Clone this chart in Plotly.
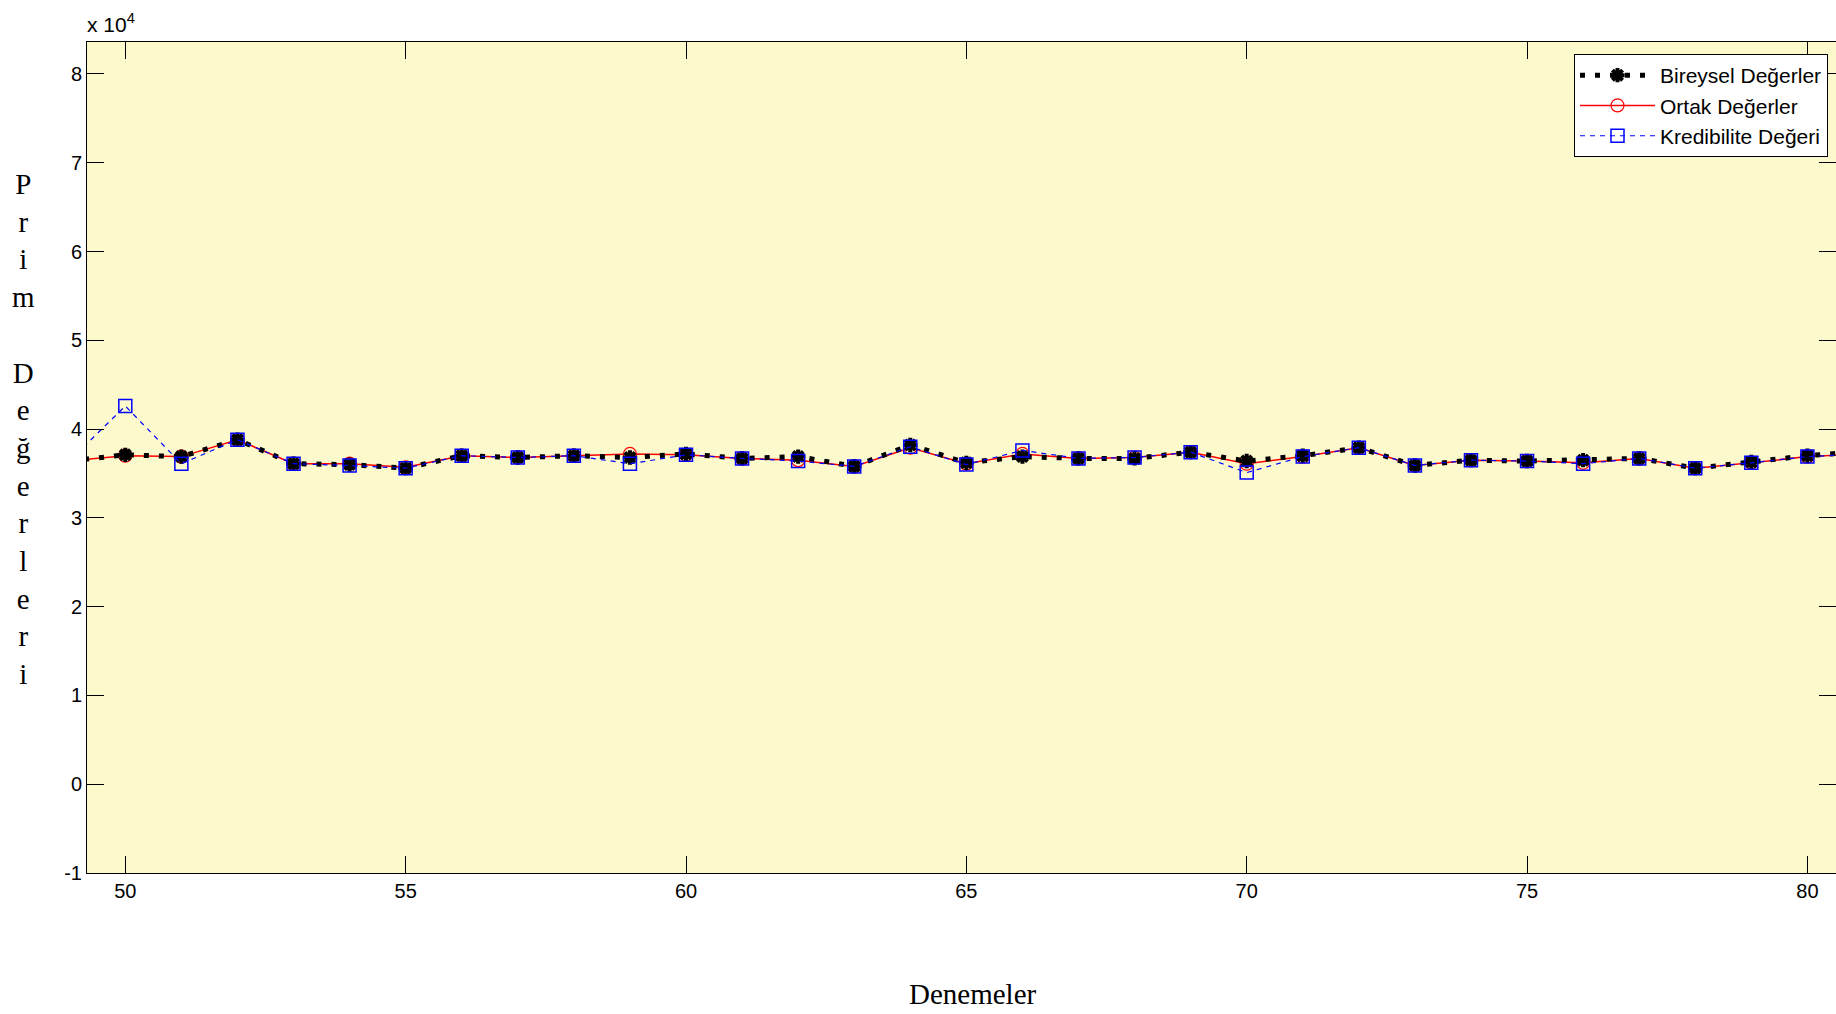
import plotly.graph_objects as go

# ---- data (values in units of 1) ----
denemeler = list(range(49, 82))
bireysel = [3.64, 3.71, 3.69, 3.88, 3.61, 3.60, 3.56, 3.70, 3.68, 3.70, 3.68, 3.72,
            3.67, 3.69, 3.58, 3.82, 3.62, 3.69, 3.67, 3.67, 3.74, 3.64, 3.70, 3.79,
            3.59, 3.65, 3.64, 3.65, 3.67, 3.56, 3.63, 3.70, 3.75]
ortak = [3.64, 3.70, 3.69, 3.88, 3.61, 3.61, 3.57, 3.70, 3.68, 3.70, 3.72, 3.71,
         3.67, 3.65, 3.58, 3.79, 3.61, 3.72, 3.67, 3.68, 3.74, 3.61, 3.69, 3.79,
         3.59, 3.65, 3.64, 3.62, 3.67, 3.56, 3.62, 3.69, 3.72]
kredibilite = [3.64, 4.26, 3.61, 3.88, 3.61, 3.59, 3.56, 3.70, 3.68, 3.70, 3.61, 3.71,
               3.67, 3.64, 3.58, 3.80, 3.60, 3.76, 3.67, 3.68, 3.74, 3.51, 3.69, 3.79,
               3.59, 3.65, 3.64, 3.61, 3.67, 3.56, 3.62, 3.69, 3.72]
scale = 1e4
y_ticks = [-1, 0, 1, 2, 3, 4, 5, 6, 7, 8]
x_ticks = [50, 55, 60, 65, 70, 75, 80]
ylabel_letters = ["P", "r", "i", "m", " ", "D", "e", "ğ", "e", "r", "l", "e", "r", "i"]

SANS = "Liberation Sans, Arial, sans-serif"
SERIF = "Liberation Serif, Times New Roman, serif"

fig = go.Figure()
fig.add_trace(go.Scatter(
    x=denemeler, y=[v * scale for v in ortak], name="Ortak Değerler", mode="lines+markers",
    line=dict(color="#FF0000", width=1.5),
    marker=dict(symbol="circle-open", size=13, color="#FF0000", line=dict(width=1.2)),
    legendrank=2, legendgroup="b"))
fig.add_trace(go.Scatter(
    x=denemeler, y=[v * scale for v in bireysel], name="Bireysel Değerler", mode="lines+markers",
    line=dict(color="#000000", width=5, dash="5px,10px"),
    marker=dict(symbol="asterisk-open", size=12, color="#000000", line=dict(width=4, color="#000000")),
    legendrank=1, legendgroup="a"))
fig.add_trace(go.Scatter(
    x=denemeler, y=[v * scale for v in kredibilite], name="Kredibilite Değeri", mode="lines+markers",
    line=dict(color="#0000FF", width=1.2, dash="5px,5px"),
    marker=dict(symbol="square-open", size=13, color="#0000FF", line=dict(width=1.5)),
    legendrank=3, legendgroup="c"))

W, H = 1836, 1014
L, R, T, B = 87, 0, 42, 141
pw, ph = W - L - R, H - T - B

def px(xp):
    return (xp - L) / pw

def py(yp):
    return (H - B - yp) / ph

annotations = [
    dict(text="Denemeler", x=px(973), y=py(994), xref="paper", yref="paper",
         showarrow=False, xanchor="center", yanchor="middle",
         font=dict(family=SERIF, size=29, color="black")),
    dict(text="x 10<sup>4</sup>", x=px(85), y=py(38), xref="paper", yref="paper",
         showarrow=False, xanchor="left", yanchor="bottom",
         font=dict(family=SANS, size=21, color="black")),
    dict(text="<br>".join(ylabel_letters), x=px(24), y=py(166), xref="paper", yref="paper",
         showarrow=False, xanchor="center", yanchor="top", align="center",
         font=dict(family=SERIF, size=29, color="black")),
]

fig.update_layout(
    width=W, height=H, autosize=False,
    margin=dict(l=L, r=R, t=T, b=B, pad=0),
    paper_bgcolor="white", plot_bgcolor="#FCF9CC",
    showlegend=True,
    legend=dict(x=px(1828), y=py(54), xanchor="right", yanchor="top",
                bgcolor="white", bordercolor="black", borderwidth=1,
                font=dict(family=SANS, size=21, color="black"),
                traceorder="grouped", tracegroupgap=0, itemwidth=75),
    annotations=annotations,
)
fig.update_xaxes(range=[49.317, 80.51], tickvals=x_ticks, ticktext=[str(v) for v in x_ticks],
                 ticks="inside", ticklen=17, tickwidth=1, tickcolor="black",
                 showline=True, linecolor="black", linewidth=1, mirror="ticks",
                 showgrid=False, zeroline=False,
                 tickfont=dict(family=SANS, size=20, color="black"))
fig.update_yaxes(range=[-1 * scale, 8.36 * scale], tickvals=[v * scale for v in y_ticks],
                 ticktext=[str(v) for v in y_ticks],
                 ticks="inside", ticklen=17, tickwidth=1, tickcolor="black",
                 showline=True, linecolor="black", linewidth=1, mirror="ticks",
                 showgrid=False, zeroline=False,
                 tickfont=dict(family=SANS, size=20, color="black"))

fig.write_html("out.html")
